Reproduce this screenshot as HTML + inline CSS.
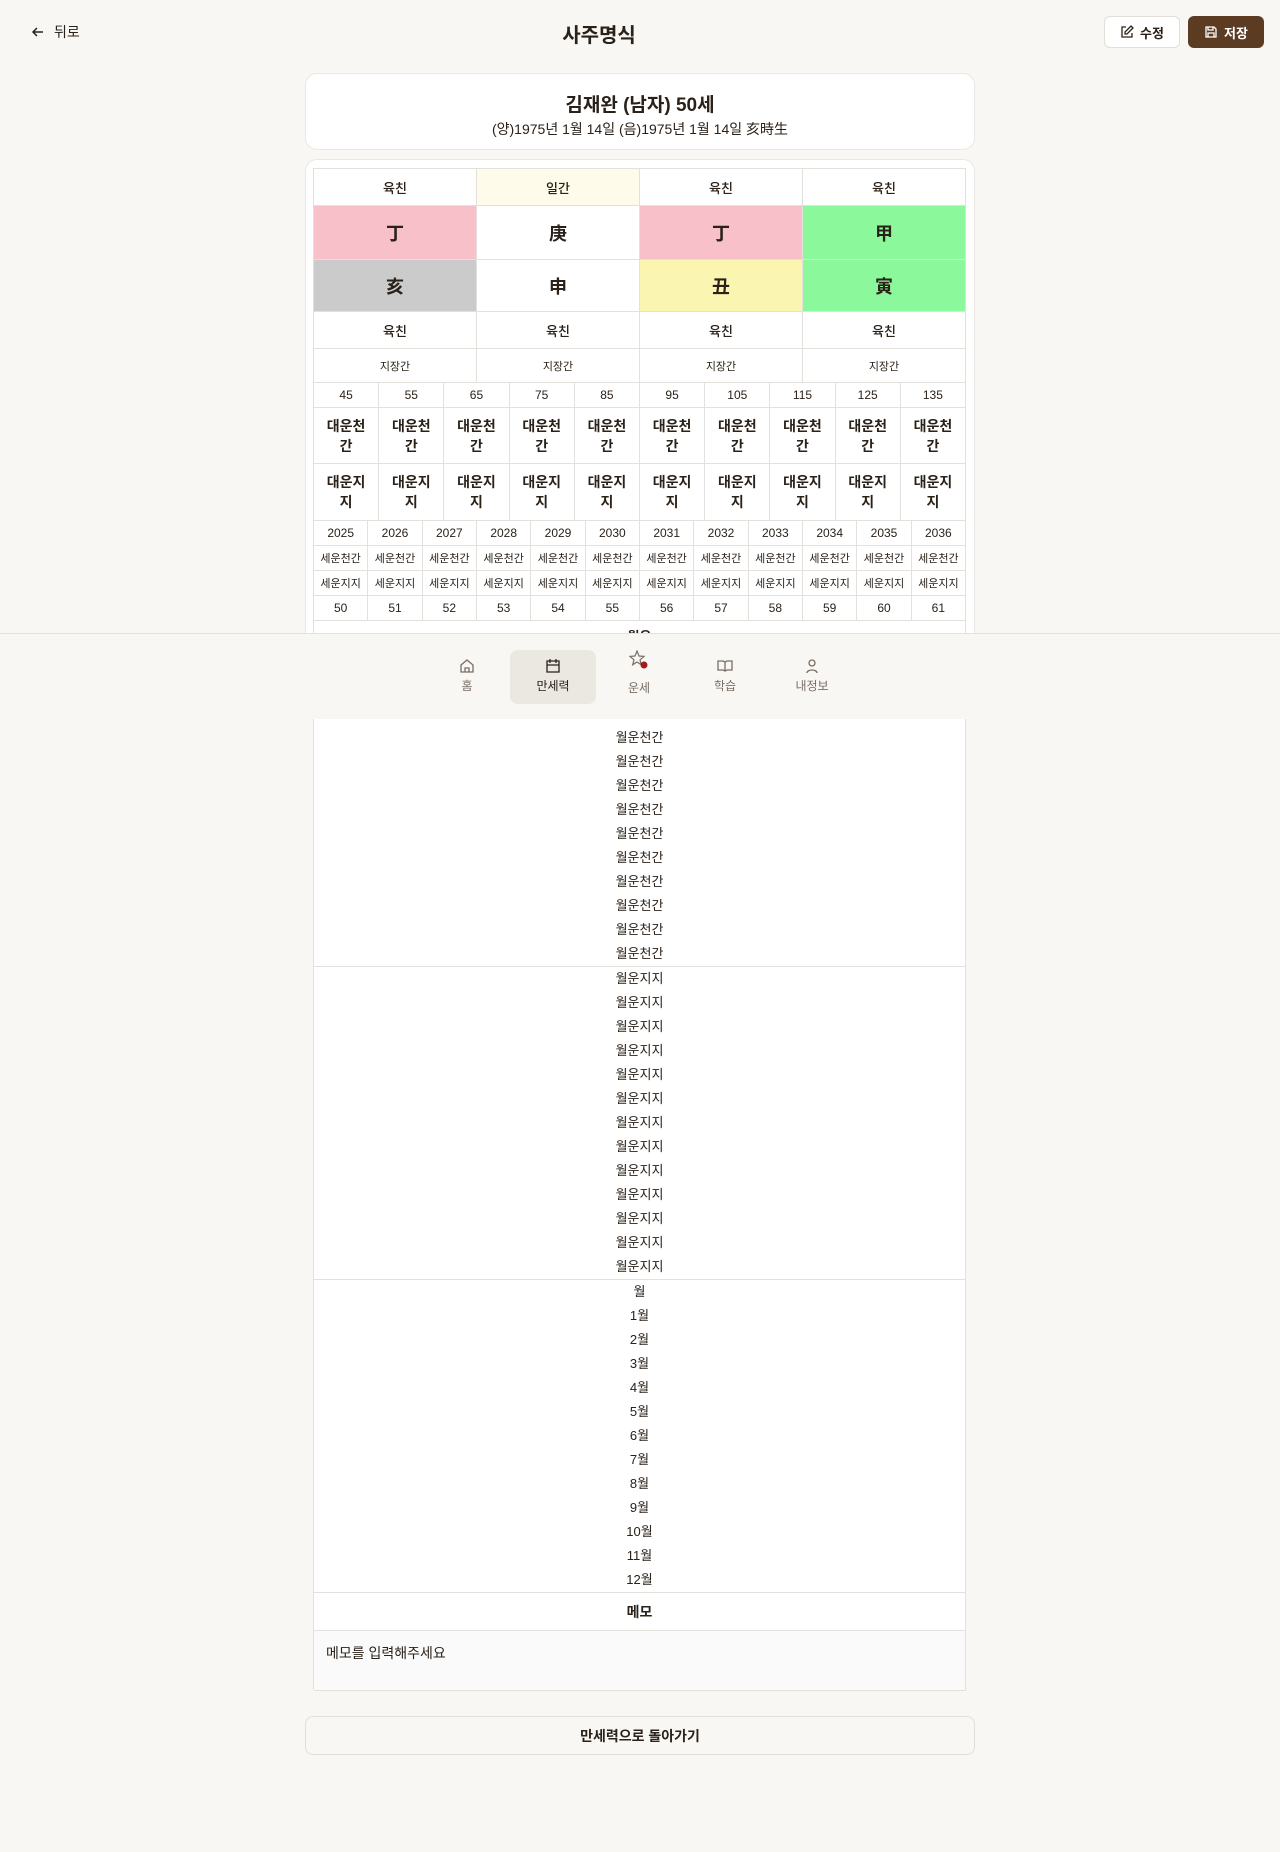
<!DOCTYPE html>
<html lang="ko"><head><meta charset="utf-8"><title>사주명식</title>
<style>
*{box-sizing:border-box;margin:0;padding:0}
body{width:1280px;height:1852px;background:#f8f7f4;font-family:"Liberation Sans","Noto Sans CJK KR",sans-serif;color:#2a2119;position:relative;overflow:hidden}
.abs{position:absolute}
.c{position:absolute;display:flex;align-items:center;justify-content:center;text-align:center;border-right:1px solid #e4e1dc;border-bottom:1px solid #e4e1dc;background:#fff}
.card{position:absolute;left:305px;width:670px;background:#fff;border:1px solid #ebe8e3;border-radius:12px}
.line{height:24px;line-height:24px;font-size:13px;text-align:center}
.nav-item{position:absolute;top:650px;width:86px;height:54px;text-align:center;font-size:12px;color:#7a6e64}
</style></head><body>
<div class="abs" style="left:31px;top:22px;font-size:14px;display:flex;align-items:center;gap:9px">
<svg width="14" height="14" viewBox="0 0 14 14"><path d="M12 7H2M6 3L2 7l4 4" stroke="#2a2119" stroke-width="1.5" fill="none"/></svg><span>뒤로</span></div>
<div class="abs" style="left:499px;width:200px;top:19px;text-align:center;font-size:20px;font-weight:bold">사주명식</div>
<div class="abs" style="left:1104px;top:16px;width:76px;height:32px;border:1px solid #e2ded8;border-radius:6px;background:#fff;font-size:13px;font-weight:bold;display:flex;align-items:center;justify-content:center;gap:6px">
<svg width="14" height="14" viewBox="0 0 14 14"><path d="M6 2H2v10h10V8M11 1l2 2-6 6H5V7z" stroke="#2a2119" stroke-width="1.3" fill="none"/></svg>수정</div>
<div class="abs" style="left:1188px;top:16px;width:76px;height:32px;border-radius:6px;background:#5b3b22;color:#fff;font-size:13px;font-weight:bold;display:flex;align-items:center;justify-content:center;gap:6px">
<svg width="14" height="14" viewBox="0 0 14 14"><path d="M2 2h8l2 2v8H2zM4 2v3h5V2M4 12V8h6v4" stroke="#fff" stroke-width="1.3" fill="none"/></svg>저장</div>

<div class="card" style="top:73px;height:77px">
<div style="position:absolute;top:16px;width:100%;text-align:center;font-size:19px;font-weight:bold">김재완 (남자) 50세</div>
<div style="position:absolute;top:45px;width:100%;text-align:center;font-size:14px">(양)1975년 1월 14일 (음)1975년 1월 14일 亥時生</div>
</div>

<div class="card" style="top:159px;height:539px"></div>
<div id="grid" class="abs" style="left:313px;top:168px;width:653px;height:1522px;border-left:1px solid #e4e1dc;border-top:1px solid #e4e1dc"></div>

<div class="abs" style="left:0;top:633px;width:1280px;height:86px;background:#f8f7f4;border-top:1px solid #e4e1dc"></div>
<div class="nav-item" style="left:424px"><svg width="16" height="16" viewBox="0 0 16 16" style="margin-top:8px"><path d="M2 7l6-5 6 5v7H2zM6 14v-4h4v4" stroke="#7a6e64" stroke-width="1.3" fill="none"/></svg><div>홈</div></div>
<div class="nav-item" style="left:510px;background:#ebe7e1;border-radius:8px;color:#2a2119"><svg width="16" height="16" viewBox="0 0 16 16" style="margin-top:8px"><path d="M2 3h12v11H2zM2 7h12M5 1v4M11 1v4" stroke="#2a2119" stroke-width="1.3" fill="none"/></svg><div>만세력</div></div>
<div class="nav-item" style="left:596px;top:646px"><svg width="20" height="20" viewBox="0 0 20 20" style="margin-top:4px"><path d="M8 1l2 5 5 .4-4 3.4 1.3 5L8 12l-4.3 2.8 1.3-5-4-3.4 5-.4z" stroke="#7a6e64" stroke-width="1.2" fill="none"/><circle cx="15" cy="15" r="3.5" fill="#a01c1c"/></svg><div style="margin-top:6px">운세</div></div>
<div class="nav-item" style="left:682px"><svg width="16" height="16" viewBox="0 0 16 16" style="margin-top:8px"><path d="M1 3h5l2 1 2-1h5v9h-5l-2 1-2-1H1zM8 4v9" stroke="#7a6e64" stroke-width="1.3" fill="none"/></svg><div>학습</div></div>
<div class="nav-item" style="left:769px"><svg width="16" height="16" viewBox="0 0 16 16" style="margin-top:8px"><circle cx="8" cy="5" r="3" stroke="#7a6e64" stroke-width="1.3" fill="none"/><path d="M3 15c0-4 10-4 10 0" stroke="#7a6e64" stroke-width="1.3" fill="none"/></svg><div>내정보</div></div>

<div class="abs" style="left:305px;top:1716px;width:670px;height:39px;border:1px solid #e2ded8;border-radius:8px;background:#f8f7f4;display:flex;align-items:center;justify-content:center;font-size:14px;font-weight:bold">만세력으로 돌아가기</div>

<script>
const pillarTop=['육친','일간','육친','육친'];
const stems=['丁','庚','丁','甲'];
const branches=['亥','申','丑','寅'];
const stemColors=['#f8c1c9','#ffffff','#f8c1c9','#8cf89c'];
const branchColors=['#cbcbcb','#ffffff','#faf5b0','#8cf89c'];
const daeunAges=[45,55,65,75,85,95,105,115,125,135];
const years=[2025,2026,2027,2028,2029,2030,2031,2032,2033,2034,2035,2036];
const ages=[50,51,52,53,54,55,56,57,58,59,60,61];
const months=['1월','2월','3월','4월','5월','6월','7월','8월','9월','10월','11월','12월'];
const g=document.getElementById('grid');
const W=652;
function cell(x,y,w,h,txt,fs,fw,bg,name){
  const d=document.createElement('div');
  d.className='c';
  d.style.cssText+=`left:${x}px;top:${y}px;width:${w}px;height:${h}px;font-size:${fs}px;font-weight:${fw};background:${bg}`;
  d.innerHTML=txt;
  
  
  g.appendChild(d);return d;
}
const cw4=W/4;
pillarTop.forEach((t,i)=>cell(i*cw4,0,cw4,37,t,13,500,i==1?'#fefbea':'#fff','pillar-header'));
stems.forEach((t,i)=>cell(i*cw4,37,cw4,54,t,18,'bold',stemColors[i],'heavenly-stem'));
branches.forEach((t,i)=>cell(i*cw4,91,cw4,52,t,18,'bold',branchColors[i],'earthly-branch'));
pillarTop.forEach((t,i)=>cell(i*cw4,143,cw4,37,'육친',13,500,'#fff','branch-yukchin'));
pillarTop.forEach((t,i)=>cell(i*cw4,180,cw4,34,'지장간',11,400,'#fff','jijanggan'));
const cw10=W/10;
daeunAges.forEach((a,i)=>cell(i*cw10,214,cw10,25,a,12,400,'#fff','daeun-age'));
daeunAges.forEach((a,i)=>cell(i*cw10,239,cw10,56,'대운천<br>간',14,'bold','#fff','daeun-stem'));
daeunAges.forEach((a,i)=>cell(i*cw10,295,cw10,57,'대운지<br>지',14,'bold','#fff','daeun-branch'));
const cw12=W/12;
years.forEach((y,i)=>cell(i*cw12,352,cw12,25,y,12,400,'#fff','seun-year'));
years.forEach((y,i)=>cell(i*cw12,377,cw12,25,'세운천간',11,400,'#fff','seun-stem'));
years.forEach((y,i)=>cell(i*cw12,402,cw12,25,'세운지지',11,400,'#fff','seun-branch'));
ages.forEach((a,i)=>cell(i*cw12,427,cw12,25,a,12,400,'#fff','seun-age'));
function block(y,h,lines,name,first){
  const d=cell(0,y,W,h,'',13,400,'#fff',name);
  d.style.flexDirection='column';d.style.justifyContent='flex-end';
  let html=first?`<div class="line" style="height:34px;line-height:34px;font-weight:bold">${first}</div>`:'';
  lines.forEach(l=>html+=`<div class="line">${l}</div>`);
  d.innerHTML=html;
}
block(452,346,months.concat(['']).map(()=> '월운천간'),'wolun-stem-block','월운');
block(798,313,months.concat(['']).map(()=> '월운지지'),'wolun-branch-block');
block(1111,313,['월'].concat(months),'month-block');
cell(0,1424,W,38,'메모',14,'bold','#fff','memo-header');
const m=cell(0,1462,W,60,'메모를 입력해주세요',14,400,'#fafafa','memo-input');
m.style.justifyContent='flex-start';m.style.alignItems='flex-start';m.style.padding='12px 12px';

</script>
</body></html>
